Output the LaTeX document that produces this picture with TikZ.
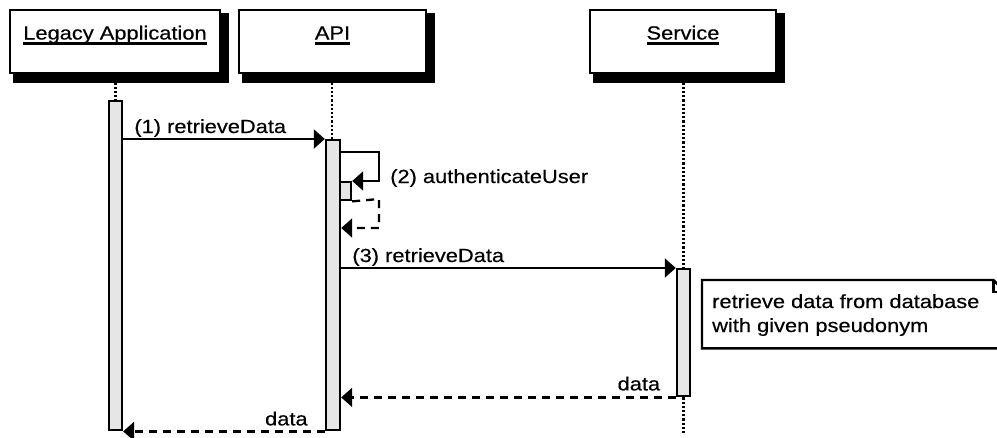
\documentclass[tikz,border=0pt]{standalone}
\usepackage{fontspec}
\setmainfont{Liberation Sans}[FakeStretch=1.15,FakeBold=0.4]
\usetikzlibrary{arrows.meta,backgrounds}
\definecolor{barfill}{RGB}{230,230,230}
% underlined participant name
\newcommand\headul[1]{\setbox0\hbox{#1}\rlap{\rule[-5pt]{\wd0}{2.2pt}}\box0}

\begin{document}
\begin{tikzpicture}[x=1pt,y=-1pt,
  font=\fontsize{19}{24}\selectfont,
  head/.style={draw, line width=2.4pt, fill=white, minimum height=63pt, inner sep=0pt},
  bar/.style={draw, line width=2.4pt, fill=barfill, inner sep=0pt, minimum width=13pt, anchor=north},
  life/.style={line width=2.3pt, dash pattern=on 2.2pt off 2pt},
  msg/.style={line width=2.3pt, -{Triangle[length=11pt,width=19pt]}},
  ret/.style={msg, dash pattern=on 8pt off 6pt},
  lbl/.style={inner sep=0pt, anchor=base west},
  rlbl/.style={inner sep=0pt, anchor=base east}]

\useasboundingbox (0,0) rectangle (997,437);

% participants
\node[head, minimum width=210pt] (leg) at (115,41.5) {};
\node[head, minimum width=187pt] (api) at (332.5,41.5) {};
\node[head, minimum width=186pt] (srv) at (683,41.5) {};
\begin{scope}[on background layer]
  \foreach \p in {leg,api,srv}
    \fill ([xshift=4pt,yshift=-4pt]\p.north west) rectangle ([xshift=7.5pt,yshift=-8.5pt]\p.south east);
\end{scope}
\node[anchor=base, inner sep=0pt] (legt) at (115,39.5) {\headul{Legacy Application}};
\node[anchor=base, inner sep=0pt] (apit) at (332.5,39.5) {\headul{API}};
\node[anchor=base, inner sep=0pt] (srvt) at (683,39.5) {\headul{Service}};

% activation bars
\node[bar, minimum height=329pt] (legbar) at (115.5,100) {};
\node[bar, minimum width=14pt, minimum height=290pt] (apibar) at (333,139) {};
\node[bar, minimum height=127pt] (srvbar) at (683.5,268) {};
\node[bar, minimum width=11pt, minimum height=18pt] (nestbar) at (345.5,181) {};

% lifelines
\draw[life] (legbar.north |- leg.south) -- (legbar.north);
\draw[life] ([xshift=-1pt]apibar.north |- api.south) -- ([xshift=-1pt]apibar.north);
\draw[life] (srvbar.north |- srv.south) -- (srvbar.north);
\draw[life] (srvbar.south) -- ++(0,36);

% messages
\draw[msg] (legbar.east |- 0,139) --
  node[lbl, pos=0, xshift=10pt, yshift=6pt] (m1) {(1) retrieveData} (apibar.west |- 0,139);

\draw[msg] (apibar.east |- 0,152) -- (379,152) -- (379,181) -- (nestbar.north east);
\node[lbl] (m2) at (390,183) {(2) authenticateUser};
\draw[ret] (nestbar.south east) -- (379,199) -- (379,228) -- (apibar.east |- 0,228);

\draw[msg] (apibar.east |- srvbar.north) --
  node[lbl, pos=0, xshift=10pt, yshift=6pt] (m3) {(3) retrieveData} (srvbar.north west);

\draw[ret] (srvbar.south west) --
  node[rlbl, pos=0, xshift=-14.5pt, yshift=7pt] (r1) {data} (apibar.east |- srvbar.south west);

\draw[ret] (apibar.south west) --
  node[rlbl, pos=0, xshift=-16pt, yshift=6pt] (r2) {data} (legbar.south east);

% note with folded corner
\begin{scope}
  \clip (0,0) rectangle (997,437);
  \node[anchor=north west, minimum width=303pt, minimum height=68pt, inner sep=0pt] (note) at (702,280) {};
  \draw[line width=2.4pt, fill=white] (note.north west) -- ([xshift=-12pt]note.north east)
    -- ([yshift=-12pt]note.north east) -- (note.south east) -- (note.south west) -- cycle;
  \draw[line width=2.4pt] ([xshift=-12pt]note.north east) -- ([xshift=-12pt,yshift=-12pt]note.north east)
    -- ([yshift=-12pt]note.north east);
\end{scope}
\node[lbl] (n1) at (712,308) {retrieve data from database};
\node[lbl] (n2) at (712,332) {with given pseudonym};
\end{tikzpicture}
\end{document}
